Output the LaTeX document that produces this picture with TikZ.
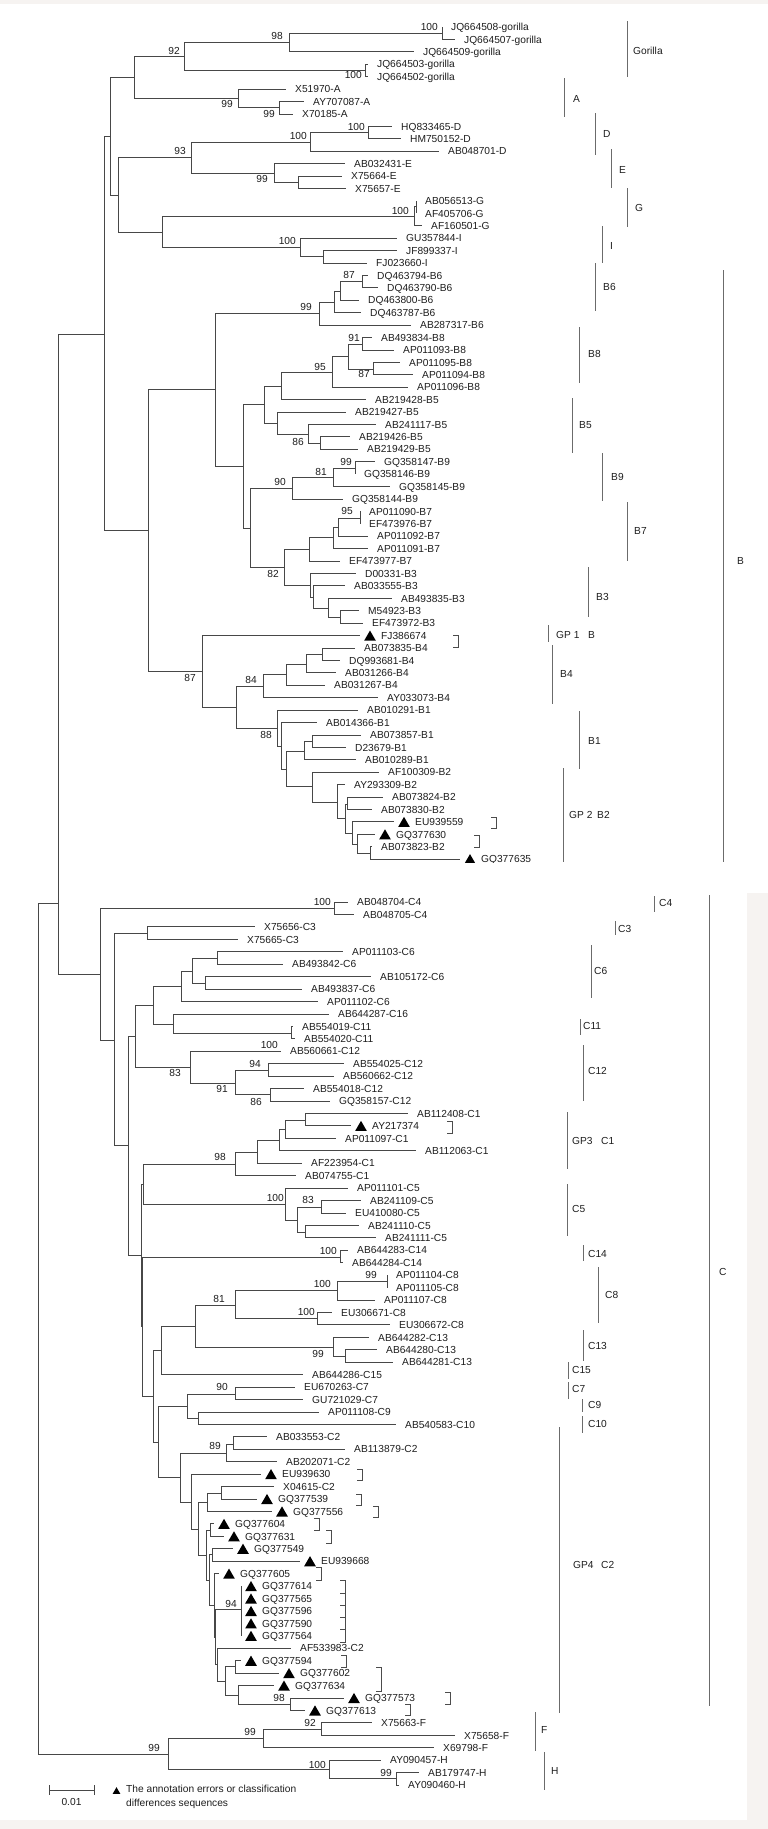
\documentclass[tikz,border=0pt]{standalone}
\usepackage{fontspec}
\setmainfont{Liberation Sans}
\usetikzlibrary{shapes.geometric}
\definecolor{bgl}{RGB}{246,243,241}
\definecolor{ink}{RGB}{30,30,30}
\newcounter{bsn}
\newcounter{cln}
\newcommand\Nd[3]{\coordinate (#1) at (#2,#3);}
\newcommand\Ed[2]{\draw[br] (#1) |- (#2);}
\newcommand\Lf[5]{\coordinate (#1) at (#3,{#4});\node[lab,xshift=9pt] (#1t) at (#1) {#5};\draw[br] (#2) |- (#1);}
\newcommand\Tlf[5]{\coordinate (#1) at (#3,{#4});\node[tri,xshift=10pt] (#1m) at (#1) {};\node[lab,xshift=21pt] (#1t) at (#1) {#5};\draw[br] (#2) |- (#1);}
\newcommand\Bsv[3]{\stepcounter{bsn}\node[bs] (b\thebsn) at (#1,#2) {#3};}
\newcommand\Cld[6]{\stepcounter{cln}\draw[cbar] (#1,#2) -- (#1,#3);\node[lab] (c\thecln) at (#5,#6) {#4};}
\newcommand\Brk[3]{\draw[brk] (#1-5,#2) -- (#1,#2) -- (#1,#3) -- (#1-5,#3);}
\begin{document}
\begin{tikzpicture}[x=1pt,y=-1pt,
 declare function={U(\i)=27+12.42*(\i-1); L(\j)=902+12.437*(\j-1);},
 br/.style={draw=black!72,line width=0.85pt},
 lab/.style={anchor=west,inner sep=0pt,text height=7.4pt,text depth=0pt,font=\fontsize{10.2pt}{12pt}\selectfont,text=ink},
 bs/.style={anchor=east,inner sep=0pt,text height=7.4pt,text depth=0pt,font=\fontsize{10.2pt}{12pt}\selectfont,text=ink},
 tri/.style={regular polygon,regular polygon sides=3,fill=black,inner sep=0pt,minimum size=13.5pt,yshift=-1.7pt},
 cbar/.style={draw=black!58,line width=0.9pt},
 brk/.style={draw=black!70,line width=0.85pt}]
\useasboundingbox (0,0) rectangle (768,1829);
\fill[bgl] (0,0) rectangle (768,1829);
\fill[white] (0,4) rectangle (768,893);
\fill[white] (0,893) rectangle (747,1820);
% ---------- internal nodes, upper
\Nd{r}{38}{1328}\Nd{nB}{58}{903}\Nd{n104}{104}{334}\Nd{n110}{110}{136}
\Nd{n134}{134}{77}\Nd{n184}{184}{56}\Nd{n289}{289}{42.5}\Nd{n442}{442}{33}
\Nd{n365}{365}{70.5}\Nd{nA}{238}{98}\Nd{n279}{279}{107}\Nd{n118}{118}{195}
\Nd{n191}{191}{157.5}\Nd{n310}{310}{142}\Nd{n368}{368}{132.5}\Nd{nE}{274}{173}
\Nd{n298}{298}{182}\Nd{n162}{162}{232}\Nd{nG}{414}{216}\Nd{nG2}{416}{206}
\Nd{nI}{300}{247}\Nd{n323}{323}{256}\Nd{n148}{148}{530}\Nd{n215}{215}{389.5}
\Nd{n319}{319}{313.5}\Nd{n334}{334}{302}\Nd{n340}{340}{291}\Nd{n362}{362}{281.5}
\Nd{n243}{243}{466}\Nd{n264}{264}{404}\Nd{n281}{281}{386}\Nd{n332}{332}{372}
\Nd{n348}{348}{356}\Nd{n362b}{362}{344}\Nd{n373}{373}{369}\Nd{n277}{277}{423.5}
\Nd{n308}{308}{434}\Nd{n320}{320}{443}\Nd{n250}{250}{528}\Nd{n292}{292}{488.5}
\Nd{n333}{333}{477.5}\Nd{n355}{355}{468.5}\Nd{n284}{284}{567}\Nd{n309}{309}{549.5}
\Nd{n333b}{333}{537.5}\Nd{n338}{338}{527}\Nd{n360}{360}{518}\Nd{n310b}{310}{585}
\Nd{n313}{313}{597.5}\Nd{n328}{328}{608}\Nd{n340b}{340}{617.5}\Nd{n202}{202}{671}
\Nd{n236}{236}{707.5}\Nd{n263}{263}{686.5}\Nd{n286}{286}{674.5}\Nd{n306}{306}{664}
\Nd{n322}{322}{654.5}\Nd{n277b}{277}{728.5}\Nd{n281b}{281}{746}\Nd{n286b}{286}{769}
\Nd{n304}{304}{751}\Nd{n312a}{312}{741.5}\Nd{n312b}{312}{786.5}\Nd{n337}{337}{802}
\Nd{n345}{345}{818.5}\Nd{n347}{347}{804}\Nd{n352}{352}{833}\Nd{n357}{357}{844}
\Nd{n370}{370}{853.5}
% ---------- internal nodes, lower
\Nd{nC}{100}{974}\Nd{n334c}{334}{908.5}\Nd{n114}{114}{1040}\Nd{n147}{147}{933.5}
\Nd{n128}{128}{1145.5}\Nd{n135}{135}{1036}\Nd{n153c}{153}{1005}\Nd{n181}{181}{986.5}
\Nd{n192}{192}{971}\Nd{n217c}{217}{958.5}\Nd{n205c}{205}{983.5}\Nd{n173}{173}{1024}
\Nd{n291}{291}{1033}\Nd{n190}{190}{1067.5}\Nd{n235c}{235}{1083}\Nd{n268}{268}{1070}
\Nd{n270}{270}{1094.5}\Nd{n141}{141}{1255}\Nd{n143}{143}{1184}\Nd{n235d}{235}{1164.5}
\Nd{n257}{257}{1152}\Nd{n279c}{279}{1140}\Nd{n285c}{285}{1129.5}\Nd{n305}{305}{1120}
\Nd{n285}{285}{1204}\Nd{n297}{297}{1220}\Nd{n321}{321}{1207.5}\Nd{n305c}{305}{1232.5}
\Nd{n142}{142}{1326}\Nd{n340c}{340}{1257}\Nd{n153}{153}{1396}\Nd{n161}{161}{1350.5}
\Nd{n195}{195}{1326.5}\Nd{n235e}{235}{1305}\Nd{n337c}{337}{1290.5}\Nd{n387}{387}{1281.5}
\Nd{n317}{317}{1318.5}\Nd{n333c}{333}{1347}\Nd{n345c}{345}{1356}\Nd{n158}{158}{1442}
\Nd{n187}{187}{1406.5}\Nd{n235f}{235}{1394}\Nd{n198c}{198}{1418}\Nd{n180}{180}{1477.5}
\Nd{n226}{226}{1453.5}\Nd{n233}{233}{1444}\Nd{n191c}{191}{1502}\Nd{n198}{198}{1529}
\Nd{n207}{207}{1502.5}\Nd{n221}{221}{1493}\Nd{n206}{206}{1555}\Nd{n210}{210}{1530}
\Nd{n209}{209}{1580}\Nd{n212}{212}{1554.5}\Nd{n214}{214}{1605}\Nd{n215c}{215}{1637}
\Nd{n241}{241}{1609.5}\Nd{n217}{217}{1664.5}\Nd{n225}{225}{1681}\Nd{n235g}{235}{1666.5}
\Nd{n238}{238}{1695}\Nd{n290}{290}{1704}\Nd{nFH}{168}{1754}\Nd{nF}{263}{1738.5}
\Nd{n321f}{321}{1729}\Nd{nH}{329}{1769.5}\Nd{n396}{396}{1778.5}
% ---------- internal edges
\Ed{r}{nB}\Ed{r}{nFH}\Ed{nB}{n104}\Ed{nB}{nC}\Ed{n104}{n110}\Ed{n104}{n148}
\Ed{n110}{n134}\Ed{n110}{n118}\Ed{n134}{n184}\Ed{n134}{nA}\Ed{n184}{n289}\Ed{n184}{n365}
\Ed{n289}{n442}\Ed{nA}{n279}\Ed{n118}{n191}\Ed{n118}{n162}\Ed{n191}{n310}\Ed{n191}{nE}
\Ed{n310}{n368}\Ed{nE}{n298}\Ed{n162}{nG}\Ed{n162}{nI}\Ed{nG}{nG2}\Ed{nI}{n323}
\Ed{n148}{n215}\Ed{n148}{n202}\Ed{n215}{n319}\Ed{n215}{n243}\Ed{n319}{n334}\Ed{n334}{n340}
\Ed{n340}{n362}\Ed{n243}{n264}\Ed{n243}{n250}\Ed{n264}{n281}\Ed{n264}{n277}\Ed{n281}{n332}
\Ed{n332}{n348}\Ed{n348}{n362b}\Ed{n348}{n373}\Ed{n277}{n308}\Ed{n308}{n320}
\Ed{n250}{n292}\Ed{n250}{n284}\Ed{n292}{n333}\Ed{n333}{n355}\Ed{n284}{n309}\Ed{n284}{n310b}
\Ed{n309}{n333b}\Ed{n333b}{n338}\Ed{n338}{n360}\Ed{n310b}{n313}\Ed{n313}{n328}\Ed{n328}{n340b}
\Ed{n202}{n236}\Ed{n236}{n263}\Ed{n236}{n277b}\Ed{n263}{n286}\Ed{n286}{n306}\Ed{n306}{n322}
\Ed{n277b}{n281b}\Ed{n281b}{n286b}\Ed{n286b}{n304}\Ed{n286b}{n312b}\Ed{n304}{n312a}
\Ed{n312b}{n337}\Ed{n337}{n345}\Ed{n345}{n347}\Ed{n345}{n352}\Ed{n352}{n357}\Ed{n357}{n370}
\Ed{nC}{n334c}\Ed{nC}{n114}\Ed{n114}{n147}\Ed{n114}{n128}\Ed{n128}{n135}\Ed{n128}{n141}
\Ed{n135}{n153c}\Ed{n135}{n190}\Ed{n153c}{n181}\Ed{n153c}{n173}\Ed{n181}{n192}
\Ed{n192}{n217c}\Ed{n192}{n205c}\Ed{n173}{n291}\Ed{n190}{n235c}\Ed{n235c}{n268}\Ed{n235c}{n270}
\Ed{n141}{n143}\Ed{n141}{n142}\Ed{n143}{n235d}\Ed{n143}{n285}\Ed{n235d}{n257}\Ed{n257}{n279c}
\Ed{n279c}{n285c}\Ed{n285c}{n305}\Ed{n285}{n297}\Ed{n297}{n321}\Ed{n297}{n305c}
\Ed{n142}{n340c}\Ed{n142}{n153}\Ed{n153}{n161}\Ed{n153}{n158}\Ed{n161}{n195}
\Ed{n195}{n235e}\Ed{n195}{n333c}\Ed{n235e}{n337c}\Ed{n235e}{n317}\Ed{n337c}{n387}\Ed{n333c}{n345c}
\Ed{n158}{n187}\Ed{n158}{n180}\Ed{n187}{n235f}\Ed{n187}{n198c}\Ed{n180}{n226}\Ed{n180}{n191c}
\Ed{n226}{n233}\Ed{n191c}{n198}\Ed{n198}{n207}\Ed{n198}{n206}\Ed{n207}{n221}
\Ed{n206}{n210}\Ed{n206}{n209}\Ed{n209}{n212}\Ed{n209}{n214}\Ed{n214}{n215c}
\Ed{n215c}{n241}\Ed{n215c}{n217}\Ed{n217}{n225}\Ed{n225}{n235g}\Ed{n225}{n238}\Ed{n238}{n290}
\Ed{nFH}{nF}\Ed{nFH}{nH}\Ed{nF}{n321f}\Ed{nH}{n396}
% ---------- leaves, upper
\Lf{a1}{n442}{442}{U(1)}{JQ664508-gorilla}
\Lf{a2}{n442}{455}{U(2)}{JQ664507-gorilla}
\Lf{a3}{n289}{414}{U(3)}{JQ664509-gorilla}
\Lf{a4}{n365}{368}{U(4)}{JQ664503-gorilla}
\Lf{a5}{n365}{368}{U(5)}{JQ664502-gorilla}
\Lf{a6}{nA}{286}{U(6)}{X51970-A}
\Lf{a7}{n279}{304}{U(7)}{AY707087-A}
\Lf{a8}{n279}{293}{U(8)}{X70185-A}
\Lf{a9}{n368}{392}{U(9)}{HQ833465-D}
\Lf{a10}{n368}{401}{U(10)}{HM750152-D}
\Lf{a11}{n310}{439}{U(11)}{AB048701-D}
\Lf{a12}{nE}{345}{U(12)}{AB032431-E}
\Lf{a13}{n298}{342}{U(13)}{X75664-E}
\Lf{a14}{n298}{346}{U(14)}{X75657-E}
\Lf{a15}{nG2}{416}{U(15)}{AB056513-G}
\Lf{a16}{nG2}{416}{U(16)}{AF405706-G}
\Lf{a17}{nG}{422}{U(17)}{AF160501-G}
\Lf{a18}{nI}{397}{U(18)}{GU357844-I}
\Lf{a19}{n323}{397}{U(19)}{JF899337-I}
\Lf{a20}{n323}{367}{U(20)}{FJ023660-I}
\Lf{a21}{n362}{368}{U(21)}{DQ463794-B6}
\Lf{a22}{n362}{378}{U(22)}{DQ463790-B6}
\Lf{a23}{n340}{359}{U(23)}{DQ463800-B6}
\Lf{a24}{n334}{361}{U(24)}{DQ463787-B6}
\Lf{a25}{n319}{411}{U(25)}{AB287317-B6}
\Lf{a26}{n362b}{372}{U(26)}{AB493834-B8}
\Lf{a27}{n362b}{394}{U(27)}{AP011093-B8}
\Lf{a28}{n373}{400}{U(28)}{AP011095-B8}
\Lf{a29}{n373}{413}{U(29)}{AP011094-B8}
\Lf{a30}{n332}{408}{U(30)}{AP011096-B8}
\Lf{a31}{n281}{366}{U(31)}{AB219428-B5}
\Lf{a32}{n277}{346}{U(32)}{AB219427-B5}
\Lf{a33}{n308}{376}{U(33)}{AB241117-B5}
\Lf{a34}{n320}{350}{U(34)}{AB219426-B5}
\Lf{a35}{n320}{358}{U(35)}{AB219429-B5}
\Lf{a36}{n355}{375}{U(36)}{GQ358147-B9}
\Lf{a37}{n355}{355}{U(37)}{GQ358146-B9}
\Lf{a38}{n333}{390}{U(38)}{GQ358145-B9}
\Lf{a39}{n292}{343}{U(39)}{GQ358144-B9}
\Lf{a40}{n360}{360}{U(40)}{AP011090-B7}
\Lf{a41}{n360}{360}{U(41)}{EF473976-B7}
\Lf{a42}{n338}{368}{U(42)}{AP011092-B7}
\Lf{a43}{n333b}{368}{U(43)}{AP011091-B7}
\Lf{a44}{n309}{340}{U(44)}{EF473977-B7}
\Lf{a45}{n310b}{356}{U(45)}{D00331-B3}
\Lf{a46}{n313}{345}{U(46)}{AB033555-B3}
\Lf{a47}{n328}{392}{U(47)}{AB493835-B3}
\Lf{a48}{n340b}{359}{U(48)}{M54923-B3}
\Lf{a49}{n340b}{363}{U(49)}{EF473972-B3}
\Tlf{a50}{n202}{360}{U(50)}{FJ386674}
\Lf{a51}{n322}{355}{U(51)}{AB073835-B4}
\Lf{a52}{n322}{340}{U(52)}{DQ993681-B4}
\Lf{a53}{n306}{336}{U(53)}{AB031266-B4}
\Lf{a54}{n286}{325}{U(54)}{AB031267-B4}
\Lf{a55}{n263}{378}{U(55)}{AY033073-B4}
\Lf{a56}{n277b}{358}{U(56)}{AB010291-B1}
\Lf{a57}{n281b}{317}{U(57)}{AB014366-B1}
\Lf{a58}{n312a}{361}{U(58)}{AB073857-B1}
\Lf{a59}{n312a}{346}{U(59)}{D23679-B1}
\Lf{a60}{n304}{356}{U(60)}{AB010289-B1}
\Lf{a61}{n312b}{379}{U(61)}{AF100309-B2}
\Lf{a62}{n337}{345}{U(62)}{AY293309-B2}
\Lf{a63}{n347}{383}{U(63)}{AB073824-B2}
\Lf{a64}{n347}{372}{U(64)}{AB073830-B2}
\Tlf{a65}{n352}{394}{U(65)}{EU939559}
\Tlf{a66}{n357}{375}{U(66)}{GQ377630}
\Lf{a67}{n370}{372}{U(67)}{AB073823-B2}
\begin{scope}
\clip (0,0) rectangle (768,862.5);
\Tlf{a68}{n370}{460}{U(68)}{GQ377635}
\end{scope}
% ---------- leaves, lower
\Lf{c1}{n334c}{348}{L(1)}{AB048704-C4}
\Lf{c2}{n334c}{354}{L(2)}{AB048705-C4}
\Lf{c3}{n147}{255}{L(3)}{X75656-C3}
\Lf{c4}{n147}{238}{L(4)}{X75665-C3}
\Lf{c5}{n217c}{343}{L(5)}{AP011103-C6}
\Lf{c6}{n217c}{283}{L(6)}{AB493842-C6}
\Lf{c7}{n205c}{371}{L(7)}{AB105172-C6}
\Lf{c8}{n205c}{302}{L(8)}{AB493837-C6}
\Lf{c9}{n181}{318}{L(9)}{AP011102-C6}
\Lf{c10}{n173}{329}{L(10)}{AB644287-C16}
\Lf{c11}{n291}{293}{L(11)}{AB554019-C11}
\Lf{c12}{n291}{295}{L(12)}{AB554020-C11}
\Lf{c13}{n190}{281}{L(13)}{AB560661-C12}
\Lf{c14}{n268}{344}{L(14)}{AB554025-C12}
\Lf{c15}{n268}{334}{L(15)}{AB560662-C12}
\Lf{c16}{n270}{304}{L(16)}{AB554018-C12}
\Lf{c17}{n270}{330}{L(17)}{GQ358157-C12}
\Lf{c18}{n305}{408}{L(18)}{AB112408-C1}
\Tlf{c19}{n305}{351}{L(19)}{AY217374}
\Lf{c20}{n285c}{336}{L(20)}{AP011097-C1}
\Lf{c21}{n279c}{416}{L(21)}{AB112063-C1}
\Lf{c22}{n257}{302}{L(22)}{AF223954-C1}
\Lf{c23}{n235d}{296}{L(23)}{AB074755-C1}
\Lf{c24}{n285}{348}{L(24)}{AP011101-C5}
\Lf{c25}{n321}{361}{L(25)}{AB241109-C5}
\Lf{c26}{n321}{346}{L(26)}{EU410080-C5}
\Lf{c27}{n305c}{359}{L(27)}{AB241110-C5}
\Lf{c28}{n305c}{376}{L(28)}{AB241111-C5}
\Lf{c29}{n340c}{348}{L(29)}{AB644283-C14}
\Lf{c30}{n340c}{343}{L(30)}{AB644284-C14}
\Lf{c31}{n387}{387}{L(31)}{AP011104-C8}
\Lf{c32}{n387}{387}{L(32)}{AP011105-C8}
\Lf{c33}{n337c}{375}{L(33)}{AP011107-C8}
\Lf{c34}{n317}{332}{L(34)}{EU306671-C8}
\Lf{c35}{n317}{390}{L(35)}{EU306672-C8}
\Lf{c36}{n333c}{369}{L(36)}{AB644282-C13}
\Lf{c37}{n345c}{377}{L(37)}{AB644280-C13}
\Lf{c38}{n345c}{393}{L(38)}{AB644281-C13}
\Lf{c39}{n161}{303}{L(39)}{AB644286-C15}
\Lf{c40}{n235f}{295}{L(40)}{EU670263-C7}
\Lf{c41}{n235f}{303}{L(41)}{GU721029-C7}
\Lf{c42}{n198c}{319}{L(42)}{AP011108-C9}
\Lf{c43}{n198c}{396}{L(43)}{AB540583-C10}
\Lf{c44}{n233}{267}{L(44)}{AB033553-C2}
\Lf{c45}{n233}{345}{L(45)}{AB113879-C2}
\Lf{c46}{n226}{277}{L(46)}{AB202071-C2}
\Tlf{c47}{n191c}{261}{L(47)}{EU939630}
\Lf{c48}{n221}{274}{L(48)}{X04615-C2}
\Tlf{c49}{n221}{257}{L(49)}{GQ377539}
\Tlf{c50}{n207}{272}{L(50)}{GQ377556}
\Tlf{c51}{n210}{214}{L(51)}{GQ377604}
\Tlf{c52}{n210}{224}{L(52)}{GQ377631}
\Tlf{c53}{n212}{233}{L(53)}{GQ377549}
\Tlf{c54}{n212}{300}{L(54)}{EU939668}
\Tlf{c55}{n214}{219}{L(55)}{GQ377605}
\Tlf{c56}{n241}{241}{L(56)}{GQ377614}
\Tlf{c57}{n241}{241}{L(57)}{GQ377565}
\Tlf{c58}{n241}{241}{L(58)}{GQ377596}
\Tlf{c59}{n241}{241}{L(59)}{GQ377590}
\Tlf{c60}{n241}{241}{L(60)}{GQ377564}
\Lf{c61}{n217}{291}{L(61)}{AF533983-C2}
\Tlf{c62}{n235g}{241}{L(62)}{GQ377594}
\Tlf{c63}{n235g}{279}{L(63)}{GQ377602}
\Tlf{c64}{n238}{274}{L(64)}{GQ377634}
\Tlf{c65}{n290}{344}{L(65)}{GQ377573}
\Tlf{c66}{n290}{305}{L(66)}{GQ377613}
\Lf{c67}{n321f}{372}{L(67)}{X75663-F}
\Lf{c68}{n321f}{455}{L(68)}{X75658-F}
\Lf{c69}{nF}{434}{L(69)}{X69798-F}
\Lf{c70}{nH}{381}{L(70)}{AY090457-H}
\Lf{c71}{n396}{419}{L(71)}{AB179747-H}
\Lf{c72}{n396}{399}{L(72)}{AY090460-H}
% ---------- bootstrap values
\Bsv{438}{27}{100}\Bsv{283}{36}{98}\Bsv{180}{51}{92}\Bsv{362}{75}{100}
\Bsv{233}{104}{99}\Bsv{275}{114}{99}\Bsv{365}{127}{100}\Bsv{307}{136}{100}
\Bsv{186}{151}{93}\Bsv{268}{179}{99}\Bsv{409}{211}{100}\Bsv{296}{241}{100}
\Bsv{355}{275}{87}\Bsv{312}{307}{99}\Bsv{360}{338}{91}\Bsv{326}{367}{95}
\Bsv{370}{374}{87}\Bsv{304}{442}{86}\Bsv{352}{462}{99}\Bsv{327}{472}{81}
\Bsv{286}{482}{90}\Bsv{353}{511}{95}\Bsv{279}{574}{82}\Bsv{196}{678}{87}
\Bsv{257}{680}{84}\Bsv{272}{735}{88}
\Bsv{331}{902}{100}\Bsv{278}{1045}{100}\Bsv{261}{1064}{94}\Bsv{181}{1073}{83}
\Bsv{228}{1089}{91}\Bsv{262}{1102}{86}\Bsv{226}{1157}{98}\Bsv{284}{1198}{100}
\Bsv{314}{1200}{83}\Bsv{337}{1251}{100}\Bsv{377}{1275}{99}\Bsv{331}{1284}{100}
\Bsv{225}{1299}{81}\Bsv{315}{1312}{100}\Bsv{324}{1354}{99}\Bsv{228}{1387}{90}
\Bsv{221}{1446}{89}\Bsv{237}{1604}{94}\Bsv{285}{1698}{98}\Bsv{316}{1723}{92}
\Bsv{256}{1732}{99}\Bsv{160}{1748}{99}\Bsv{326}{1765}{100}\Bsv{392}{1773}{99}
% ---------- brackets
\Brk{458}{635}{647}\Brk{496}{817}{828}\Brk{479}{835}{847}\Brk{452}{1121}{1133}
\Brk{362}{1469}{1480}\Brk{361}{1494}{1505}\Brk{378}{1506}{1517}\Brk{319}{1518}{1530}
\Brk{331}{1530}{1543}\Brk{321}{1567}{1580}\Brk{346}{1655}{1667}\Brk{381}{1667}{1691}
\Brk{450}{1692}{1704}\Brk{410}{1704}{1715}
\Brk{345}{1580}{1642}
\draw[brk] (340,1593) -- (345,1593) (340,1605) -- (345,1605) (340,1617) -- (345,1617) (340,1629) -- (345,1629);
% ---------- clade bars
\Cld{627}{21}{77}{Gorilla}{633}{51}
\Cld{564}{78}{117}{A}{573}{99}
\Cld{595}{113}{155}{D}{603}{134}
\Cld{611}{149}{188}{E}{619}{170}
\Cld{627}{188}{227}{G}{635}{208}
\Cld{602}{226}{263}{I}{610}{246}
\Cld{595}{263}{311}{B6}{603}{287}
\Cld{579}{327}{383}{B8}{588}{354}
\Cld{572}{398}{453}{B5}{579}{425}
\Cld{602}{453}{501}{B9}{611}{477}
\Cld{627}{502}{561}{B7}{634}{531}
\Cld{588}{567}{617}{B3}{596}{597}
\Cld{548}{625}{642}{GP 1}{556}{635}
\node[lab] (gp1b) at (588,635) {B};
\Cld{552}{645}{704}{B4}{560}{674}
\Cld{579}{711}{769}{B1}{588}{741}
\Cld{563}{768}{862}{GP 2}{569}{815}
\node[lab] (gp2b) at (597,815) {B2};
\Cld{723}{270}{862}{B}{737}{561}
\Cld{654}{896}{912}{C4}{659}{903}
\Cld{615}{921}{935}{C3}{618}{929}
\Cld{591}{945}{998}{C6}{594}{971}
\Cld{580}{1019}{1035}{C11}{583}{1026}
\Cld{583}{1045}{1101}{C12}{588}{1071}
\Cld{567}{1112}{1169}{GP3}{572}{1141}
\node[lab] (gp3c) at (601,1141) {C1};
\Cld{567}{1184}{1236}{C5}{572}{1209}
\Cld{583}{1245}{1261}{C14}{588}{1254}
\Cld{598}{1267}{1323}{C8}{605}{1295}
\Cld{583}{1330}{1361}{C13}{588}{1346}
\Cld{568}{1362}{1379}{C15}{572}{1370}
\Cld{568}{1382}{1399}{C7}{572}{1389}
\Cld{582}{1399}{1412}{C9}{588}{1405}
\Cld{582}{1416}{1433}{C10}{588}{1424}
\Cld{559}{1427}{1713}{GP4}{573}{1565}
\node[lab] (gp4c) at (601,1565) {C2};
\Cld{535}{1712}{1751}{F}{541}{1730}
\Cld{544}{1752}{1790}{H}{551}{1771}
\Cld{709}{895}{1706}{C}{719}{1272}
% ---------- legend
\draw[br] (49,1790) -- (94,1790) (49,1785) -- (49,1795) (94,1785) -- (94,1795);
\node[lab,anchor=center] (sc) at (71.5,1802) {0.01};
\node[tri,minimum size=9pt] (lt) at (116.5,1790) {};
\node[lab] (lg1) at (126,1789) {The annotation errors or classification};
\node[lab] (lg2) at (126,1803) {differences sequences};
\end{tikzpicture}
\end{document}
